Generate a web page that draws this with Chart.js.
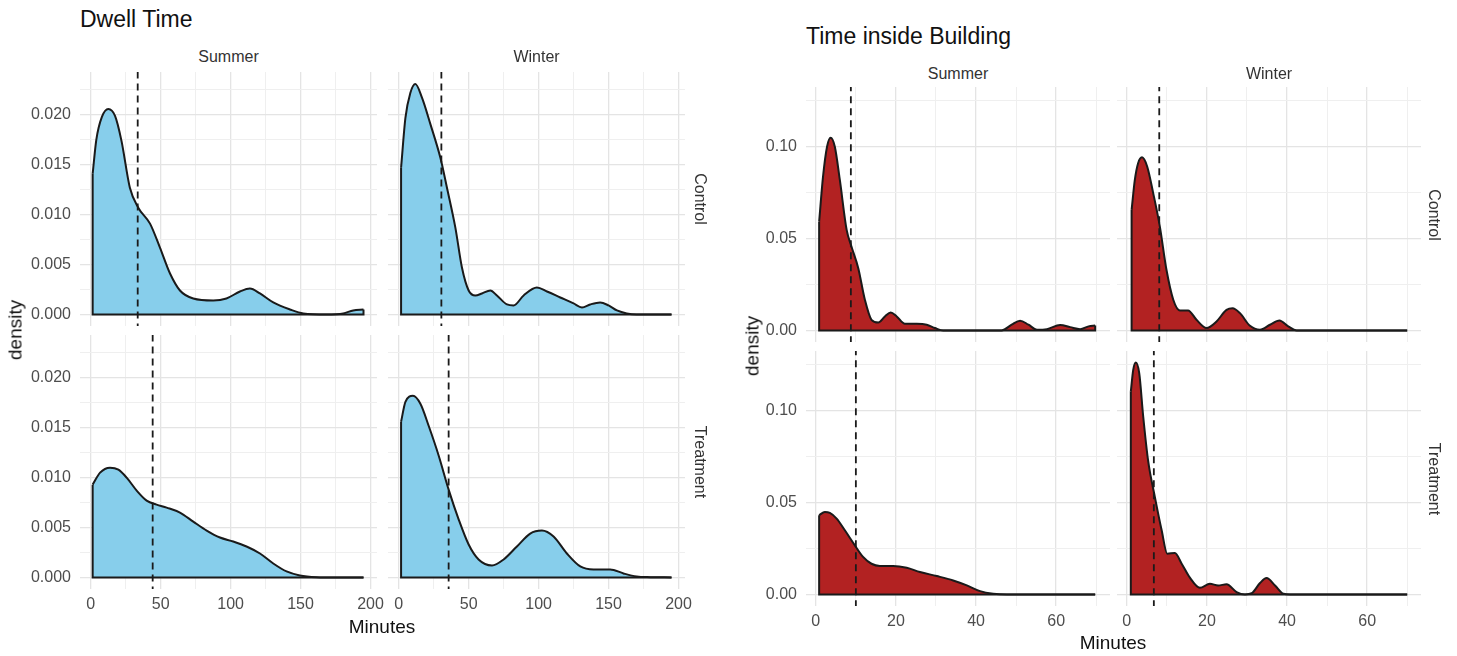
<!DOCTYPE html>
<html><head><meta charset="utf-8">
<script src="https://cdn.jsdelivr.net/npm/chart.js@4.4.1/dist/chart.umd.min.js"></script>
<style>
html,body{margin:0;padding:0;background:#fff;width:1457px;height:656px;overflow:hidden;font-family:"Liberation Sans",Arial,sans-serif;}
.t{position:absolute;white-space:nowrap;line-height:1;}
canvas{position:absolute;}
</style></head><body>
<script>
// ---------------- data ----------------
const seasons = ['Summer', 'Winter'];
const groups = ['Control', 'Treatment'];

// Dwell Time (minutes) density curves
const dwellSummerControlX = [1.4, 4, 8, 12.6, 17.4, 22, 28, 34, 42.4, 49.5, 56.7, 63.8, 73.3, 87.6, 97, 106.7, 113.8, 121, 130.5, 142.4, 152, 168.6, 180.5, 187.6, 195];
const dwellSummerControlY = [0.0141, 0.0175, 0.0198, 0.0206, 0.0199, 0.0174, 0.0127, 0.0107, 0.0091, 0.0067, 0.0041, 0.0024, 0.0016, 0.0014, 0.0016, 0.0023, 0.0026, 0.0021, 0.0012, 0.0005, 0.0001, 0.0, 0.0001, 0.0004, 0.0005];
const dwellWinterControlX = [1.7, 4.8, 8.3, 11.9, 16.7, 22.6, 29.8, 34.5, 40.5, 45.2, 50, 54.8, 59.5, 65.5, 70.2, 77.4, 82.1, 89.3, 98.8, 106, 115.5, 125, 131, 136.9, 144, 150, 156, 163, 170, 195];
const dwellWinterControlY = [0.0147, 0.0197, 0.0222, 0.0231, 0.0217, 0.0191, 0.0157, 0.0127, 0.0087, 0.0047, 0.0024, 0.0019, 0.0021, 0.0024, 0.0019, 0.0010, 0.0009, 0.0019, 0.0027, 0.0023, 0.0017, 0.0011, 0.0007, 0.0010, 0.0012, 0.0009, 0.0004, 0.0001, 0, 0];
const dwellSummerTreatmentX = [1.4, 6.7, 13.8, 19.8, 25.7, 32.9, 40, 47.1, 54.3, 63.8, 73.3, 82.9, 92.4, 101.9, 111.4, 121, 130.5, 140, 149.5, 161.4, 175, 195];
const dwellSummerTreatmentY = [0.0093, 0.0105, 0.0110, 0.0108, 0.0100, 0.0087, 0.0077, 0.0073, 0.0070, 0.0065, 0.0056, 0.0047, 0.0040, 0.0036, 0.0031, 0.0024, 0.0014, 0.0006, 0.0002, 0.00003, 0, 0];
const dwellWinterTreatmentX = [1.7, 4.8, 10.2, 15.5, 21.4, 28.6, 35.7, 42.9, 50, 57.1, 66.7, 75, 84.5, 94, 102.4, 110.7, 120.2, 129.8, 139.3, 151.2, 160.7, 170, 180, 195];
const dwellWinterTreatmentY = [0.0156, 0.0176, 0.0182, 0.0174, 0.0152, 0.0122, 0.0088, 0.0058, 0.0033, 0.0018, 0.0012, 0.0018, 0.0031, 0.0044, 0.0047, 0.0041, 0.0024, 0.0011, 0.0008, 0.0008, 0.0004, 0.0001, 0.00003, 0];
// mean lines: SummerControl, WinterControl, SummerTreatment, WinterTreatment
const dwellMeans = [33.6, 30.5, 44.3, 35.7];

// Time inside Building (minutes) density curves
const bldSummerControlX = [0.83, 1.8, 2.8, 3.7, 4.75, 6, 7.7, 8.9, 10.6, 12.25, 13.9, 15.6, 17.25, 18.7, 20.2, 22.25, 25.2, 27.7, 29.75, 31.8, 46.4, 48.9, 51, 53.1, 55.2, 57.7, 61, 63.5, 66, 68.1, 69.75];
const bldSummerControlY = [0.0592, 0.0837, 0.100, 0.1049, 0.100, 0.0819, 0.0547, 0.0457, 0.0339, 0.0167, 0.0058, 0.0043, 0.0076, 0.0098, 0.0076, 0.0036, 0.0036, 0.0031, 0.0013, 0, 0, 0.0031, 0.0053, 0.0031, 0.0004, 0.0007, 0.0029, 0.0018, 0.0007, 0.0022, 0.0027];
const bldWinterControlX = [1.2, 2, 2.8, 3.8, 5.1, 6.6, 8.25, 9.9, 11.6, 13.25, 15.3, 17.4, 19.9, 22.4, 24.9, 26.4, 28.25, 30.75, 33.25, 35.75, 38.1, 40.3, 42.4, 70];
const bldWinterControlY = [0.0656, 0.0819, 0.0909, 0.0942, 0.0891, 0.0746, 0.0565, 0.033, 0.0167, 0.0109, 0.0109, 0.0058, 0.0013, 0.0049, 0.0112, 0.0121, 0.0094, 0.0025, 0.0004, 0.0031, 0.0054, 0.0022, 0, 0];
const bldSummerTreatmentX = [0.83, 2.25, 3.5, 5.2, 7.25, 9.75, 11.8, 13.9, 16, 19.3, 22.7, 26, 30.2, 34.3, 37.7, 41, 44.3, 47.7, 69.75];
const bldSummerTreatmentY = [0.0431, 0.0449, 0.0444, 0.0413, 0.0349, 0.0267, 0.0204, 0.0167, 0.0155, 0.0155, 0.0145, 0.0122, 0.0100, 0.0076, 0.0049, 0.0018, 0.0004, 0, 0];
const bldWinterTreatmentX = [1, 1.6, 2.25, 3.1, 4.1, 5.3, 7, 8.7, 10.1, 12, 13.7, 15.75, 18.25, 20.75, 22.8, 24.9, 27.4, 29.5, 31.2, 33.25, 34.9, 37, 39.1, 40.75, 70];
const bldWinterTreatmentY = [0.1104, 0.1222, 0.1262, 0.1204, 0.0967, 0.0731, 0.0531, 0.0349, 0.0222, 0.0225, 0.0167, 0.0091, 0.0036, 0.0058, 0.0049, 0.0055, 0.0013, 0, 0.0007, 0.0062, 0.0089, 0.0049, 0.0004, 0, 0];
const bldMeans = [8.75, 8.1, 10, 6.75];

// tick values
const dwellXMajor = [0, 50, 100, 150, 200];
const dwellXMinor = [25, 75, 125, 175];
const dwellYMajor = [0, 0.005, 0.010, 0.015, 0.020];
const dwellYMinor = [0.0025, 0.0075, 0.0125, 0.0175, 0.0225];
const bldXMajor = [0, 20, 40, 60];
const bldXMinor = [10, 30, 50, 70];
const bldYMajor = [0, 0.05, 0.10];
const bldYMinor = [0.025, 0.075, 0.125];

// ---------------- drawing ----------------
const FONT = '"Liberation Sans", Arial, Helvetica, sans-serif';
Chart.defaults.font.family = FONT;

function isIn(v, arr) { return arr.some(a => Math.abs(a - v) < 1e-9); }

function panel(cfg) {
  const padL = cfg.showY ? 62 : 0, padB = cfg.showX ? 30 : 0, padR = 24, padT = 0;
  const c = document.createElement('canvas');
  const W = cfg.w + padL + padR, H = cfg.h + padT + padB;
  c.width = W; c.height = H;
  c.style.width = W + 'px'; c.style.height = H + 'px';
  c.style.left = (cfg.left - padL) + 'px'; c.style.top = (cfg.top - padT) + 'px';
  document.body.appendChild(c);
  const curve = cfg.xs.map((x, i) => ({x: x, y: cfg.ys[i]}));
  const n = cfg.xs.length - 1;
  const outline = [
    {x: cfg.xs[n], y: cfg.ys[n]}, {x: cfg.xs[n], y: 0},
    {x: cfg.xs[0], y: 0}, {x: cfg.xs[0], y: cfg.ys[0]}
  ];
  const xAll = cfg.xMajor.concat(cfg.xMinor).sort((a, b) => a - b);
  const yAll = cfg.yMajor.concat(cfg.yMinor).sort((a, b) => a - b);
  const gridColor = (maj) => ctx => (ctx.tick && isIn(ctx.tick.value, maj)) ? '#e4e4e4' : '#efefef';
  const gridWidth = (maj) => ctx => (ctx.tick && isIn(ctx.tick.value, maj)) ? 1.3 : 1;
  new Chart(c, {
    type: 'line',
    data: { datasets: [
      { data: [{x: cfg.mean, y: cfg.yMin - 1}, {x: cfg.mean, y: cfg.yMax + 1}],
        borderColor: '#1a1a1a', borderWidth: 1.8, borderDash: [7, 5], pointRadius: 0, fill: false, tension: 0 },
      { data: outline, borderColor: '#1a1a1a', borderWidth: 2, pointRadius: 0, fill: false, tension: 0 },
      { data: curve, borderColor: '#1a1a1a', borderWidth: 2, backgroundColor: cfg.fill, fill: 'origin',
        cubicInterpolationMode: 'monotone', pointRadius: 0 }
    ]},
    options: {
      responsive: false, animation: false, devicePixelRatio: 1, events: [],
      layout: { padding: { left: 0, top: padT, right: padR, bottom: 0 } },
      plugins: { legend: { display: false }, tooltip: { enabled: false } },
      scales: {
        x: {
          type: 'linear', min: cfg.xMin, max: cfg.xMax,
          border: { display: false },
          grid: { color: gridColor(cfg.xMajor), lineWidth: gridWidth(cfg.xMajor), drawTicks: false },
          ticks: { display: cfg.showX, autoSkip: false, maxRotation: 0, padding: 6, color: '#4d4d4d',
                   font: { size: 16, family: FONT },
                   callback: v => isIn(v, cfg.xMajor) ? String(v) : '' },
          afterBuildTicks: s => { s.ticks = xAll.map(v => ({value: v})); },
          afterFit: s => { s.height = padB; s.paddingLeft = 0; s.paddingRight = 0; }
        },
        y: {
          type: 'linear', min: cfg.yMin, max: cfg.yMax,
          border: { display: false },
          grid: { color: gridColor(cfg.yMajor), lineWidth: gridWidth(cfg.yMajor), drawTicks: false },
          ticks: { display: cfg.showY, autoSkip: false, padding: 9, color: '#4d4d4d',
                   font: { size: 16, family: FONT },
                   callback: v => isIn(v, cfg.yMajor) ? v.toFixed(cfg.yDec) : '' },
          afterBuildTicks: s => { s.ticks = yAll.map(v => ({value: v})); },
          afterFit: s => { s.width = padL; s.paddingTop = 0; s.paddingBottom = 0; }
        }
      }
    }
  });
}

function text(str, x, y, size, color, rot, anchor) {
  const d = document.createElement('div');
  d.className = 't';
  d.textContent = str;
  d.style.fontSize = size + 'px';
  d.style.color = color;
  d.style.left = x + 'px';
  d.style.top = y + 'px';
  const tx = anchor === 'left' ? '0' : '-50%';
  d.style.transform = 'translate(' + tx + ',-50%)' + (rot ? ' rotate(' + rot + 'deg)' : '');
  if (anchor === 'left') d.style.transformOrigin = '0 50%';
  document.body.appendChild(d);
}

// Dwell Time figure
const dwellCols = [{left: 80, w: 297}, {left: 388, w: 297}];
const dwellRows = [{top: 72, h: 254}, {top: 335, h: 254}];
const dwellXs = [[dwellSummerControlX, dwellWinterControlX], [dwellSummerTreatmentX, dwellWinterTreatmentX]];
const dwellYs = [[dwellSummerControlY, dwellWinterControlY], [dwellSummerTreatmentY, dwellWinterTreatmentY]];
for (let r = 0; r < 2; r++) for (let col = 0; col < 2; col++) {
  panel({ left: dwellCols[col].left, w: dwellCols[col].w, top: dwellRows[r].top, h: dwellRows[r].h,
    xMin: -7.65, xMax: 204.65, yMin: -0.00116, yMax: 0.0243, yDec: 3,
    xMajor: dwellXMajor, xMinor: dwellXMinor, yMajor: dwellYMajor, yMinor: dwellYMinor,
    showX: r === 1, showY: col === 0, xs: dwellXs[r][col], ys: dwellYs[r][col],
    mean: dwellMeans[r * 2 + col], fill: '#87CEEB' });
}

// Time inside Building figure
const bldCols = [{left: 806, w: 304}, {left: 1117, w: 304}];
const bldRows = [{top: 87, h: 255}, {top: 351, h: 255}];
const bldXs = [[bldSummerControlX, bldWinterControlX], [bldSummerTreatmentX, bldWinterTreatmentX]];
const bldYs = [[bldSummerControlY, bldWinterControlY], [bldSummerTreatmentY, bldWinterTreatmentY]];
for (let r = 0; r < 2; r++) for (let col = 0; col < 2; col++) {
  panel({ left: bldCols[col].left, w: bldCols[col].w, top: bldRows[r].top, h: bldRows[r].h,
    xMin: -2.45, xMax: 73.45, yMin: -0.0063, yMax: 0.1325, yDec: 2,
    xMajor: bldXMajor, xMinor: bldXMinor, yMajor: bldYMajor, yMinor: bldYMinor,
    showX: r === 1, showY: col === 0, xs: bldXs[r][col], ys: bldYs[r][col],
    mean: bldMeans[r * 2 + col], fill: '#B22222' });
}

// titles
text('Dwell Time', 80, 19, 23, '#111', 0, 'left');
text('Time inside Building', 806, 36, 23, '#111', 0, 'left');
// strip labels
text(seasons[0], 80 + 297 / 2, 57, 16, '#333');
text(seasons[1], 388 + 297 / 2, 57, 16, '#333');
text(seasons[0], 806 + 304 / 2, 74, 16, '#333');
text(seasons[1], 1117 + 304 / 2, 74, 16, '#333');
text(groups[0], 700, 72 + 127, 16, '#333', 90);
text(groups[1], 700, 335 + 127, 16, '#333', 90);
text(groups[0], 1434, 87 + 127.5, 16, '#333', 90);
text(groups[1], 1434, 351 + 127.5, 16, '#333', 90);
// axis titles
text('density', 15, 330, 19, '#111', -90);
text('density', 752, 346, 19, '#111', -90);
text('Minutes', 382, 626, 19, '#111');
text('Minutes', 1113, 642, 19, '#111');
</script>
</body></html>
